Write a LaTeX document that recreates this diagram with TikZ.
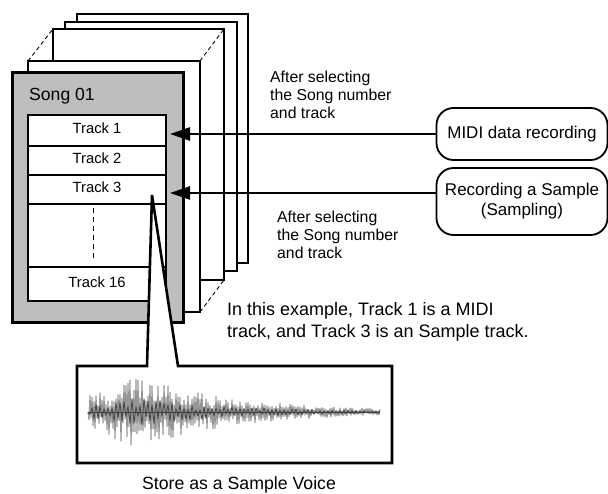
\documentclass[tikz,border=0pt]{standalone}
\usepackage{fontspec}
\setmainfont{Liberation Sans}
\usetikzlibrary{arrows.meta}
\definecolor{boxgray}{RGB}{188,190,192}
\definecolor{wavegray}{RGB}{150,150,150}
\definecolor{wavedark}{RGB}{70,70,70}
\begin{document}
\begin{tikzpicture}[x=1pt,y=-1pt,
  page/.style={draw,fill=white,line width=1.4pt},
  link/.style={line width=0.9pt,dash pattern=on 4pt off 3pt},
  row/.style={draw,fill=white,line width=1.1pt,minimum width=138pt,inner sep=0pt,text height=10.5pt,text depth=4pt,font=\fontsize{14.8}{17}\selectfont},
  src/.style={draw,line width=1.8pt,rounded corners=17pt,minimum width=171pt,align=center,font=\fontsize{17}{20}\selectfont,inner sep=0pt},
  arr/.style={line width=2.4pt,-{Triangle[length=20pt,width=13pt]}},
  note/.style={align=left,inner sep=0pt,anchor=north west,font=\fontsize{15.8}{18}\selectfont},
]
\useasboundingbox (0,0) rectangle (608,494);
% stacked pages
\draw[page] (77,14) rectangle (248,263);
\draw[page] (65,22) rectangle (237,271);
\draw[page] (53,29) rectangle (224,280);
\draw[page] (28,61) rectangle (200,312);
\draw[link] (28,61) -- (53,29);
\draw[link] (200,61) -- (224,29);
\draw[link] (200,312) -- (224,280);
% front song box
\draw[line width=3pt,fill=boxgray] (12,73) rectangle (183,323);
\node[anchor=base west,inner sep=0pt,font=\fontsize{17.6}{20}\selectfont] (song) at (29,101) {Song 01};
% track rows
\node[row,minimum height=31pt] (t1) at (97,130.5) {Track 1};
\node[row,minimum height=29pt] (t2) at (97,160.5) {Track 2};
\node[row,minimum height=29pt] (t3) at (97,189.5) {Track 3};
\node[row,minimum height=63pt] (dots) at (97,235.5) {};
\node[row,minimum height=34pt] (t16) at (97,284) {Track 16};
\draw[line width=1pt,dash pattern=on 5pt off 4pt] (93,208) -- (93,258);
% zoom wedge and sample box
\coordinate (apex) at (152,195);
\draw[line width=2.6pt,fill=white,line join=miter] (apex) -- (147,366) -- (77,366) -- (77,463) -- (392,463) -- (392,366) -- (178,366) -- cycle;
% waveform
\pgfmathsetseed{42}
\draw[wavegray,line width=1.1pt,line join=round] (88,412) \foreach \i in {1,...,292} { -- ({88+\i},{412+(2*mod(\i,2)-1)*(0.2+0.8*rnd)*(\i<50 ? 16+20*\i/50 : 36*exp(-(\i-50)/100))}) };
\pgfmathsetseed{7}
\draw[wavedark,line width=0.8pt,line join=round] (88,412) \foreach \i in {1,...,146} { -- ({88+2*\i},{412+(2*mod(\i,2)-1)*(0.1+0.3*rnd)*(\i<25 ? 16+20*\i/25 : 36*exp(-(2*\i-50)/100))}) };
\draw[black!75,line width=0.6pt] (88,412) -- (380,412);
% sources
\node[src,minimum height=52pt] (midi) at (522,134) {MIDI data recording};
\node[src,minimum height=67pt] (rec) at (522,201.5) {Recording a Sample\\(Sampling)};
\coordinate (a1) at (170,134);
\coordinate (a2) at (170,193);
\draw[arr] (midi.west) -- (a1);
\draw[arr] (rec.west |- a2) -- (a2);
% notes
\node[note] (n1) at (270,70.5) {After selecting\\the Song number\\and track};
\node[note] (n2) at (277,210.5) {After selecting\\the Song number\\and track};
\node[note,font=\fontsize{18}{22}\selectfont] (n3) at (227,302.4) {In this example, Track 1 is a MIDI\\track, and Track 3 is an Sample track.};
\node[anchor=base,inner sep=0pt,font=\fontsize{17.7}{20}\selectfont] (store) at (239,489) {Store as a Sample Voice};
\end{tikzpicture}
\end{document}
